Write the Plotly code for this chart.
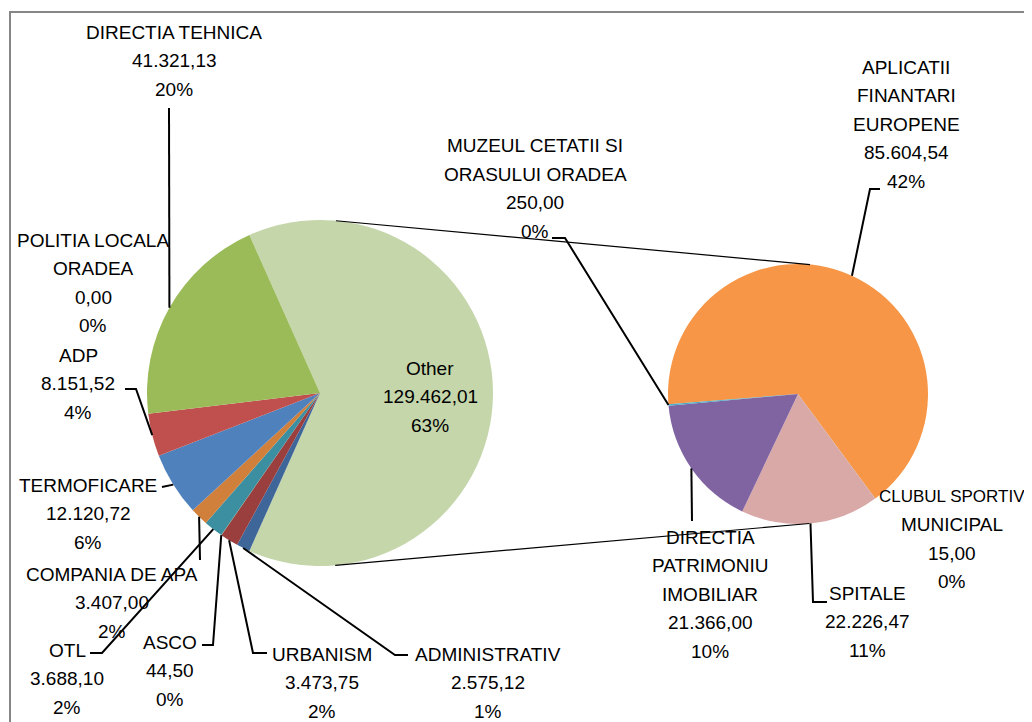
import math
import plotly.graph_objects as go

W, H = 1032, 722
OX, OY = 8, 8   # page body margin offset

# ---------------- data ----------------
main_labels = ["Other", "ADMINISTRATIV", "URBANISM", "ASCO", "OTL",
               "COMPANIA DE APA", "TERMOFICARE", "ADP",
               "POLITIA LOCALA\nORADEA", "DIRECTIA TEHNICA"]
main_values = [129462.01, 2575.12, 3473.75, 44.50, 3688.10,
               3407.00, 12120.72, 8151.52, 0.00, 41321.13]

sec_labels = ["APLICATII\nFINANTARI\nEUROPENE", "CLUBUL SPORTIV\nMUNICIPAL",
              "SPITALE", "DIRECTIA\nPATRIMONIU\nIMOBILIAR",
              "MUZEUL CETATII SI\nORASULUI ORADEA"]
sec_values = [85604.54, 15.00, 22226.47, 21366.00, 250.00]

# ---------------- style ----------------
main_colors = ["#C5D6AB", "#3F6699", "#9A3E3E", "#7E9A48", "#3C8FA0",
               "#D0803A", "#4F81BD", "#C0504D", "#9BBB59", "#9BBB59"]
sec_colors = ["#F79646", "#4BACC6", "#D9A9A8", "#8064A2", "#4BACC6"]

FONT = "Liberation Sans, Arial, sans-serif"
FS = 19
LINE_H = 28.5

# pie geometry (screen pixels)
C1, R1 = (320.0, 393.0), 173.0
C2, R2 = (798.0, 394.0), 130.0

total = sum(main_values)
other = main_values[0]
rot_main = 90.0 - 180.0 * other / total   # Other slice faces the secondary pie
rot_sec = -94.5


def px(x, y):
    return (x - OX) / W, 1.0 - (y - OY) / H


def fmt(v):
    s = f"{v:,.2f}"
    return s.replace(",", "X").replace(".", ",").replace("X", ".")


def mids(values, rot):
    tot = sum(values)
    out = []
    a = rot
    for v in values:
        a1 = a + 360.0 * v / tot
        out.append((a + a1) / 2.0)
        a = a1
    return out


def edge_pt(c, r, ang):
    t = math.radians(ang)
    return c[0] + r * math.sin(t), c[1] - r * math.cos(t)


def dom(c, r):
    xa, ya = px(c[0] - r, c[1] + r)
    xb, yb = px(c[0] + r, c[1] - r)
    return dict(x=[xa, xb], y=[ya, yb])


fig = go.Figure()
fig.add_trace(go.Pie(values=main_values, labels=[l.replace("\n", " ") for l in main_labels],
                     sort=False, direction="clockwise", rotation=rot_main,
                     marker=dict(colors=main_colors, line=dict(width=0)),
                     textinfo="none", domain=dom(C1, R1), showlegend=False))
fig.add_trace(go.Pie(values=sec_values, labels=[l.replace("\n", " ") for l in sec_labels],
                     sort=False, direction="clockwise", rotation=rot_sec,
                     marker=dict(colors=sec_colors, line=dict(width=0)),
                     textinfo="none", domain=dom(C2, R2), showlegend=False))

# label placement: name -> (center x, first line y)
label_pos = {
    "DIRECTIA TEHNICA": (174, 32),
    "POLITIA LOCALA\nORADEA": (93, 240),
    "ADP": (78, 355),
    "TERMOFICARE": (88, 485),
    "COMPANIA DE APA": (112, 574),
    "OTL": (67, 650),
    "ASCO": (170, 642),
    "URBANISM": (322, 654),
    "ADMINISTRATIV": (488, 654),
    "Other": (430, 368),
    "MUZEUL CETATII SI\nORASULUI ORADEA": (535, 146),
    "APLICATII\nFINANTARI\nEUROPENE": (906, 67),
    "CLUBUL SPORTIV\nMUNICIPAL": (952, 496),
    "DIRECTIA\nPATRIMONIU\nIMOBILIAR": (710, 537),
    "SPITALE": (867, 593),
}
# per-line font size overrides (to keep text inside the visible page)
line_fs = {"CLUBUL SPORTIV": 17}

# leader line anchor points on the label side (pixels)
leaders = {
    "DIRECTIA TEHNICA": [(169, 108)],
    "ADP": [(125, 389), (136, 389)],
    "TERMOFICARE": [(162, 487)],
    "COMPANIA DE APA": [(200, 560)],
    "OTL": [(90, 653), (102, 653)],
    "ASCO": [(202, 645), (213, 645)],
    "URBANISM": [(267, 653), (253, 653)],
    "ADMINISTRATIV": [(408, 655), (395, 655)],
    "MUZEUL CETATII SI\nORASULUI ORADEA": [(552, 238), (565, 238)],
    "APLICATII\nFINANTARI\nEUROPENE": [(880, 189), (870, 189)],
    "SPITALE": [(827, 602), (813, 602)],
    "DIRECTIA\nPATRIMONIU\nIMOBILIAR": [(692, 521)],
}

annotations = []
shapes = []


def add_label(name, value, tot, mid, c, r):
    cx, y0 = label_pos[name]
    lines = name.split("\n") + [fmt(value), f"{round(100 * value / tot)}%"]
    for i, t in enumerate(lines):
        x, y = px(cx, y0 + i * LINE_H)
        annotations.append(dict(x=x, y=y, xref="paper", yref="paper", text=t,
                                showarrow=False, xanchor="center", yanchor="middle",
                                font=dict(family=FONT, size=line_fs.get(t, FS), color="black")))
    if name in leaders:
        pts = leaders[name] + [edge_pt(c, r, mid)]
        p = "M " + " L ".join(f"{px(a, b)[0]:.5f},{px(a, b)[1]:.5f}" for a, b in pts)
        shapes.append(dict(type="path", path=p, xref="paper", yref="paper",
                           line=dict(color="black", width=2)))


for name, v, m in zip(main_labels, main_values, mids(main_values, rot_main)):
    add_label(name, v, total, m, C1, R1)
for name, v, m in zip(sec_labels, sec_values, mids(sec_values, rot_sec)):
    add_label(name, v, total, m, C2, R2)

# connector lines: external tangents between the two pies
dx, dy = C2[0] - C1[0], C2[1] - C1[1]
d = math.hypot(dx, dy)
ux, uy = dx / d, dy / d
cc = (R1 - R2) / d
ss = math.sqrt(1 - cc * cc)
for sgn in (1, -1):
    nx = cc * ux - sgn * ss * uy
    ny = cc * uy + sgn * ss * ux
    a = px(C1[0] + R1 * nx, C1[1] + R1 * ny)
    b = px(C2[0] + R2 * nx, C2[1] + R2 * ny)
    shapes.append(dict(type="line", x0=a[0], y0=a[1], x1=b[0], y1=b[1],
                       xref="paper", yref="paper", line=dict(color="black", width=1.2)))

# chart border (extends past right/bottom edge as in the reference)
b0 = px(10, 12)
b1 = px(1045, 735)
shapes.append(dict(type="rect", x0=b0[0], y0=b0[1], x1=b1[0], y1=b1[1],
                   xref="paper", yref="paper", line=dict(color="#868686", width=2),
                   fillcolor="rgba(0,0,0,0)", layer="below"))

fig.update_layout(width=W, height=H, margin=dict(l=0, r=0, t=0, b=0),
                  paper_bgcolor="white", plot_bgcolor="white",
                  annotations=annotations, shapes=shapes, showlegend=False)

fig.write_html("out.html")
